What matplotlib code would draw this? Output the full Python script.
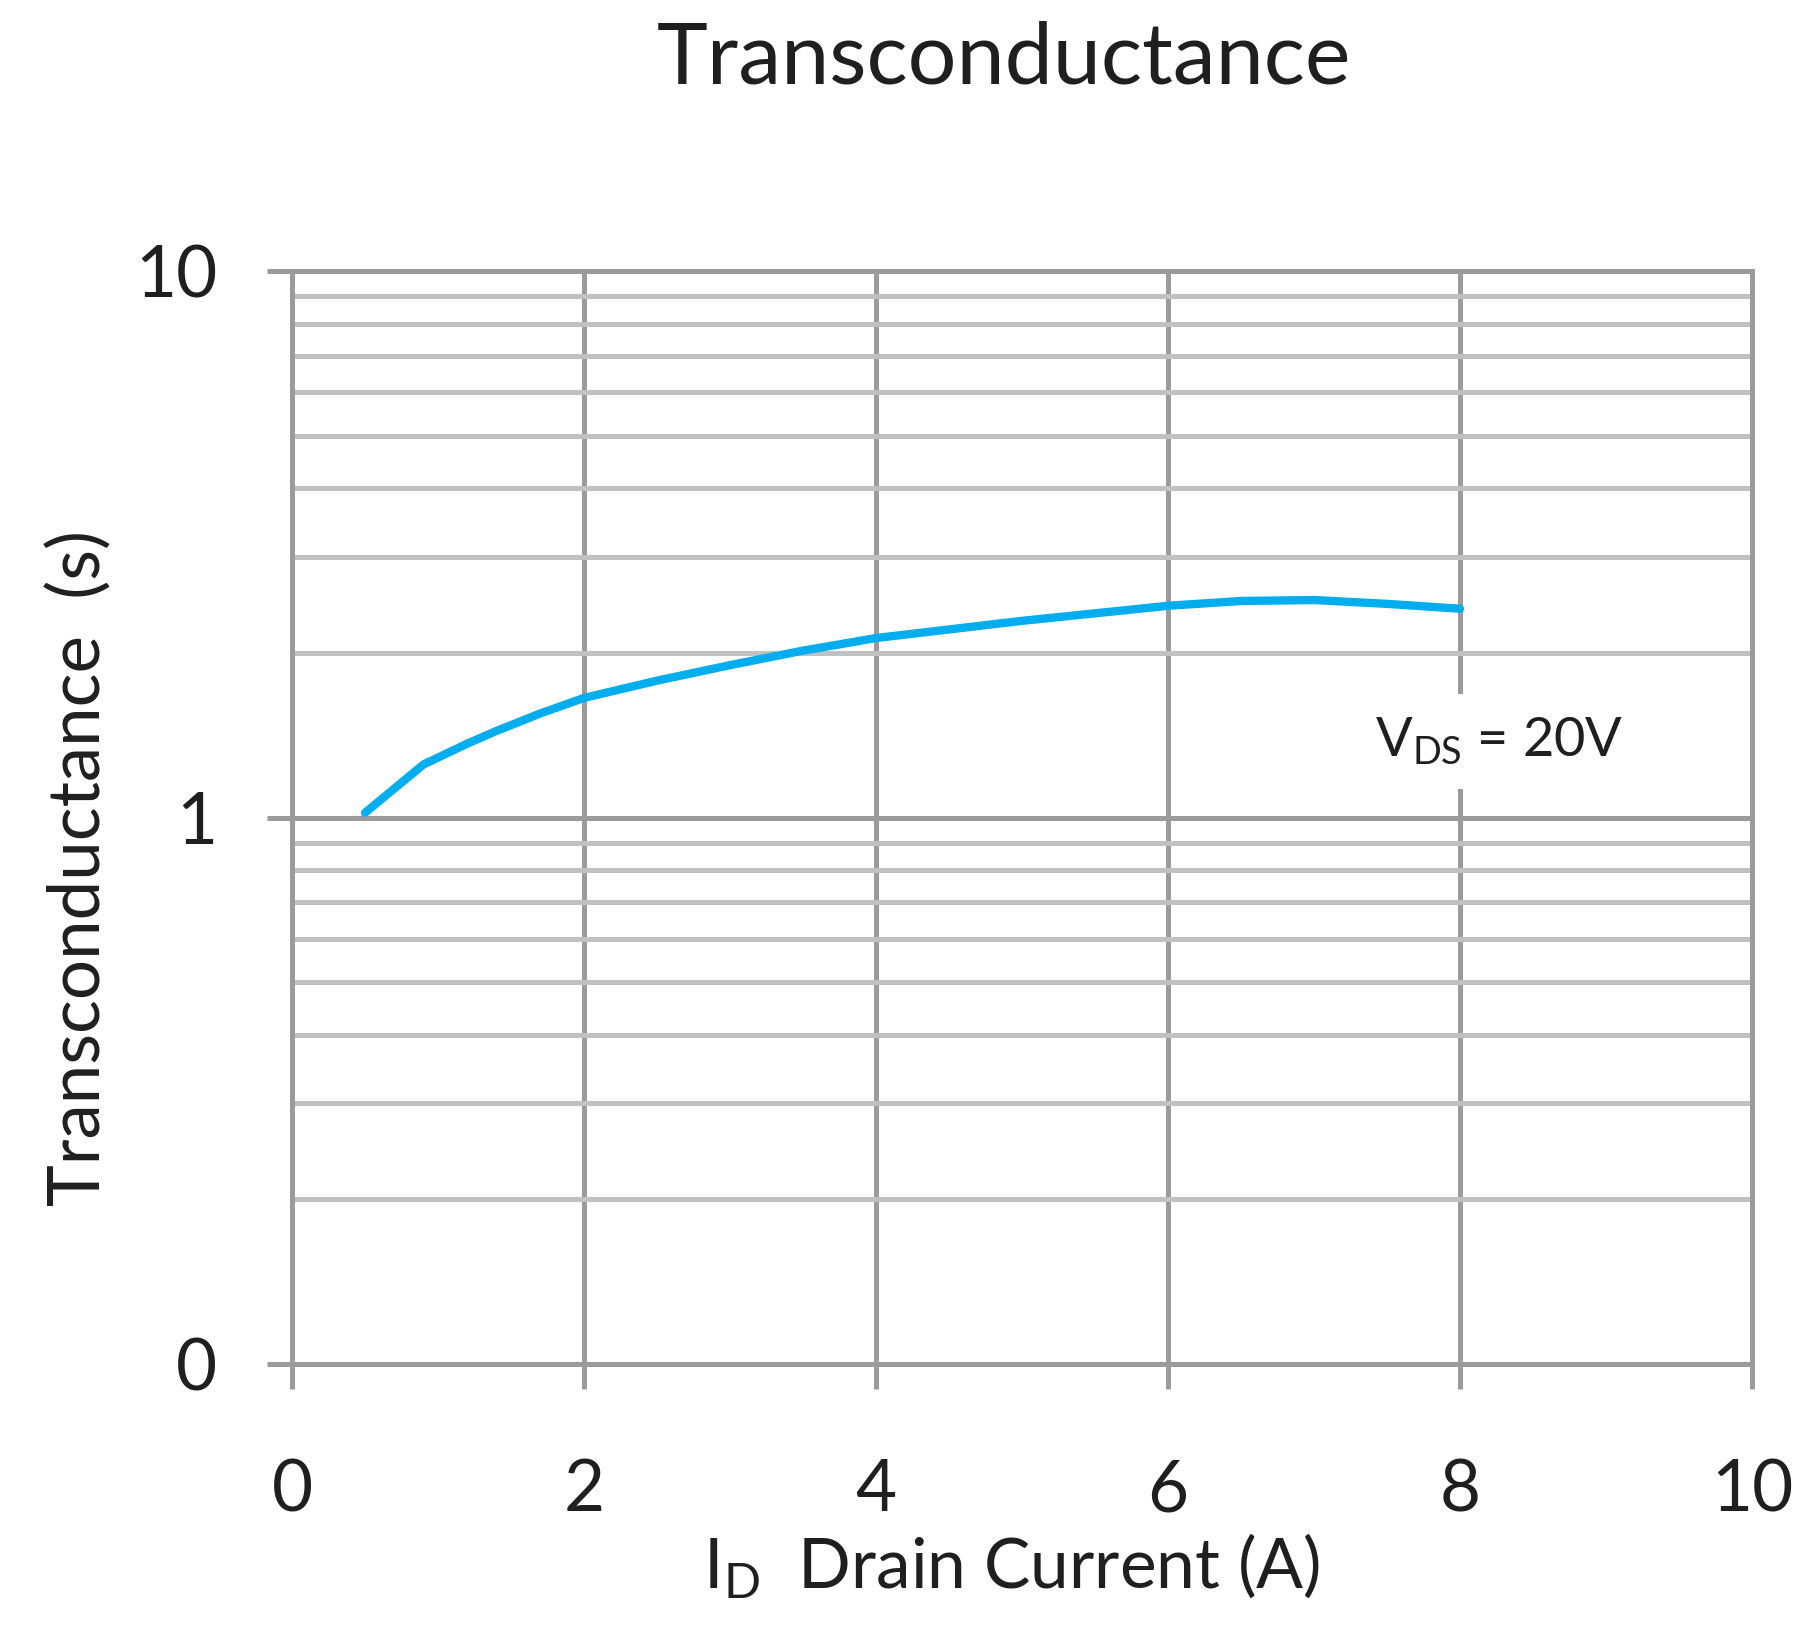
import matplotlib
matplotlib.use("Agg")
import matplotlib.pyplot as plt
from matplotlib.ticker import FixedLocator, NullFormatter

plt.rcParams['font.family'] = ['Lato', 'DejaVu Sans']
plt.rcParams['mathtext.fontset'] = 'custom'
plt.rcParams['mathtext.rm'] = 'Lato'
plt.rcParams['mathtext.it'] = 'Lato'

# values (VDS = 20V)
drain_current = [0.5, 0.9, 1.2, 1.4, 1.7, 2.0, 2.5, 3.0, 3.5, 4.0, 5.0, 6.0, 6.5, 7.0, 7.5, 8.0]
transconductance = [1.02, 1.25, 1.365, 1.44, 1.55, 1.655, 1.78, 1.90, 2.02, 2.13, 2.29, 2.44, 2.49, 2.50, 2.46, 2.41]

x_ticks = [0, 2, 4, 6, 8, 10]
y_ticks = [0.1, 1, 10]
y_tick_labels = ['0', '1', '10']
y_minor = [0.2, 0.3, 0.4, 0.5, 0.6, 0.7, 0.8, 0.9, 2, 3, 4, 5, 6, 7, 8, 9]

major_grey = '#9a9b9d'
minor_grey = '#c0c1c3'
text_col = '#1f1f1f'

fig = plt.figure(figsize=(18.2, 16.5), dpi=100)
ax = fig.add_axes([292 / 1820, 1 - 1364 / 1650, 1460 / 1820, 1093 / 1650])

ax.plot(drain_current, transconductance, color='#00aeef', lw=6,
        solid_capstyle='round', solid_joinstyle='round', zorder=3)

ax.set_yscale('log')
ax.set_xlim(0, 10)
ax.set_ylim(0.1, 10)

ax.set_xticks(x_ticks)
ax.set_xticklabels([str(v) for v in x_ticks])
ax.yaxis.set_major_locator(FixedLocator(y_ticks))
ax.set_yticklabels(y_tick_labels)
ax.yaxis.set_minor_locator(FixedLocator(y_minor))
ax.yaxis.set_minor_formatter(NullFormatter())
ax.xaxis.set_minor_locator(FixedLocator([]))

ax.grid(which='major', axis='both', color=major_grey, lw=3.6, zorder=1)
ax.grid(which='minor', axis='y', color=minor_grey, lw=3.6, zorder=0)
ax.set_axisbelow(True)

ax.tick_params(which='major', direction='out', length=18, width=3.6,
               color=major_grey, labelsize=51, labelcolor=text_col)
ax.tick_params(axis='x', pad=50)
ax.tick_params(axis='y', pad=36)
ax.tick_params(which='minor', length=0)

for side in ['left', 'right', 'top', 'bottom']:
    ax.spines[side].set_color(major_grey)
    ax.spines[side].set_linewidth(3.6)

ax.text(8.27, 1.377, r'V$_{\mathrm{DS}}$ = 20V', fontsize=39, color=text_col,
        ha='center', va='center', zorder=4,
        bbox=dict(facecolor='white', edgecolor='none', pad=16))

fig.text(1004 / 1820, 1 - 84 / 1650, 'Transconductance', fontsize=62,
         color=text_col, ha='center', va='baseline')
fig.text(79 / 1820, 1 - 868 / 1650, 'Transconductance  (s)', fontsize=51,
         color=text_col, ha='center', va='center', rotation=90)
fig.text(1012 / 1820, 1 - 1588 / 1650, r'I$_{\mathrm{D}}$  Drain Current (A)',
         fontsize=50, color=text_col, ha='center', va='baseline')

fig.savefig('out.png', dpi=100, facecolor='white')
